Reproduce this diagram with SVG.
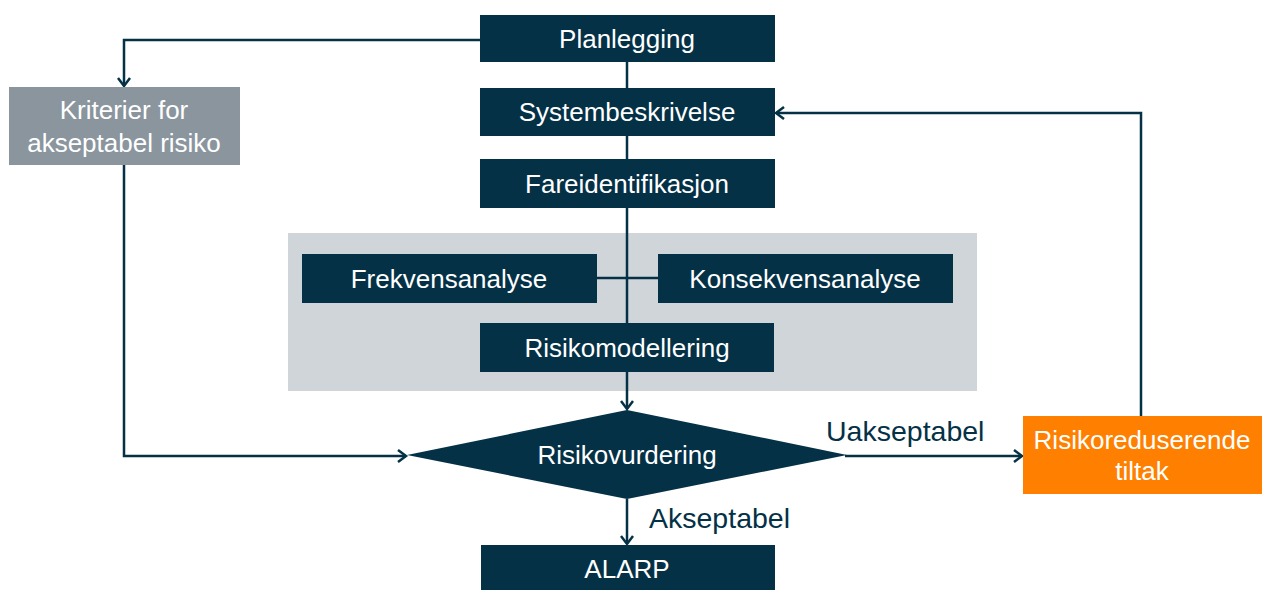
<svg xmlns="http://www.w3.org/2000/svg" width="1263" height="590" viewBox="0 0 1263 590">
<style>
.box{fill:#043146}
.t{font-family:"Liberation Sans",Arial,sans-serif;font-size:26px;fill:#ffffff;text-anchor:middle}
.lbl{font-family:"Liberation Sans",Arial,sans-serif;font-size:28.5px;fill:#043146}
.c{fill:none;stroke:#043146;stroke-width:2.5}
</style>
<defs>
<marker id="arr" markerWidth="14" markerHeight="14" refX="11" refY="7" orient="auto" markerUnits="userSpaceOnUse">
<path d="M3,1 L11,7 L3,13" fill="none" stroke="#043146" stroke-width="2.5"/>
</marker>
</defs>
<rect x="0" y="0" width="1263" height="590" fill="#ffffff"/>
<rect id="panel" x="288" y="233" width="689" height="158" fill="#D0D5DA"/>
<g id="connectors">
<path class="c" d="M627,62 V372"/>
<path class="c" d="M627,372 V409" marker-end="url(#arr)"/>
<path class="c" d="M597,278 H658"/>
<path class="c" d="M480,40 H124 V86" marker-end="url(#arr)"/>
<path class="c" d="M124,165 V456 H406" marker-end="url(#arr)"/>
<path class="c" d="M845,456 H1022" marker-end="url(#arr)"/>
<path class="c" d="M1141,416 V113 H776" marker-end="url(#arr)"/>
<path class="c" d="M627,499 V544" marker-end="url(#arr)"/>
</g>
<g id="planlegging"><rect class="box" x="480" y="15" width="295" height="47"/><text class="t" x="627" y="48">Planlegging</text></g>
<g id="systembeskrivelse"><rect class="box" x="480" y="88" width="295" height="48"/><text class="t" x="627" y="121">Systembeskrivelse</text></g>
<g id="fareidentifikasjon"><rect class="box" x="480" y="159" width="295" height="49"/><text class="t" x="627" y="193">Fareidentifikasjon</text></g>
<g id="kriterier"><rect x="9" y="87" width="231" height="78" fill="#8A959E"/><text class="t" x="124" y="119">Kriterier for</text><text class="t" x="124" y="152">akseptabel risiko</text></g>
<g id="frekvensanalyse"><rect class="box" x="302" y="254" width="295" height="49"/><text class="t" x="449" y="288">Frekvensanalyse</text></g>
<g id="konsekvensanalyse"><rect class="box" x="658" y="254" width="295" height="49"/><text class="t" x="805" y="288">Konsekvensanalyse</text></g>
<g id="risikomodellering"><rect class="box" x="480" y="323" width="294" height="49"/><text class="t" x="627" y="357">Risikomodellering</text></g>
<g id="risikovurdering"><polygon class="box" points="627,410 847,455 627,499 407,455"/><text class="t" x="627" y="464">Risikovurdering</text></g>
<g id="tiltak"><rect x="1023" y="416" width="239" height="78" fill="#FF8000"/><text class="t" x="1142" y="449">Risikoreduserende</text><text class="t" x="1142" y="480">tiltak</text></g>
<g id="alarp"><rect class="box" x="481" y="545" width="294" height="45"/><text class="t" x="627" y="578">ALARP</text></g>
<text class="lbl" x="826" y="441">Uakseptabel</text>
<text class="lbl" x="649" y="528">Akseptabel</text>
</svg>
